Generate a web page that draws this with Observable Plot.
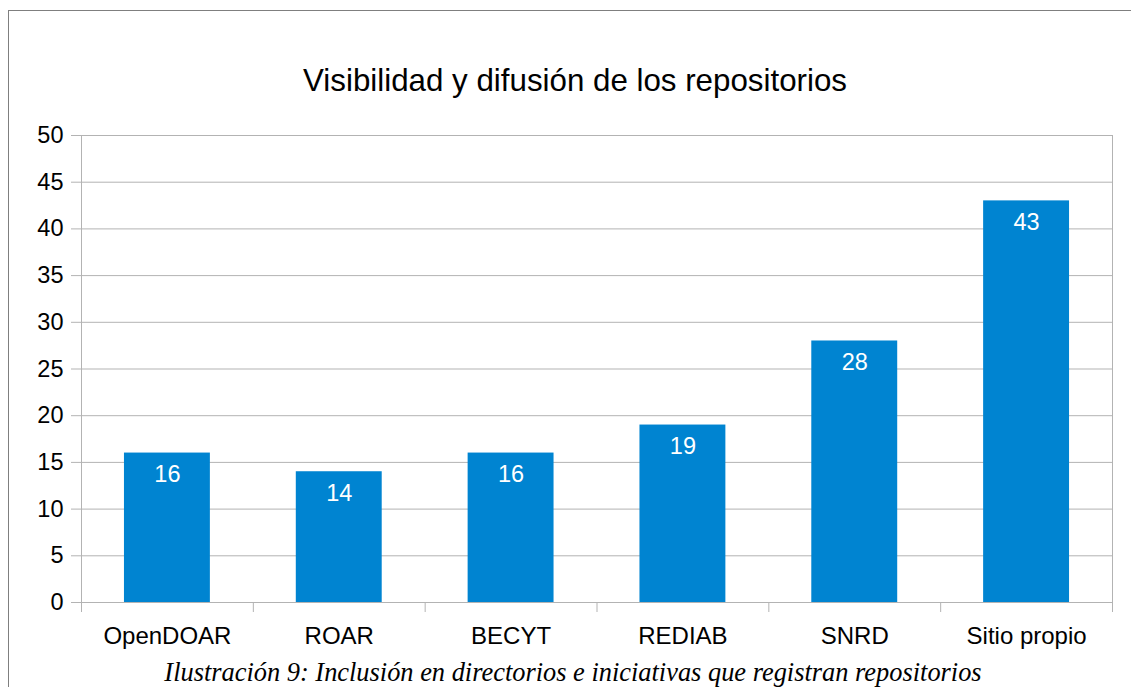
<!DOCTYPE html>
<html>
<head>
<meta charset="utf-8">
<script src="https://cdn.jsdelivr.net/npm/d3@7"></script>
<script src="https://cdn.jsdelivr.net/npm/@observablehq/plot@0.6"></script>
<style>
  html, body { margin: 0; padding: 0; background: #fff; overflow: hidden; }
  #page { position: relative; width: 1131px; height: 687px; overflow: hidden; }
  #frame { position: absolute; left: 8px; top: 10px; width: 1200px; height: 800px; border: 1.5px solid #7f7f7f; box-sizing: border-box; }
  #title { position: absolute; left: 0; top: 64.5px; width: 1150px; text-align: center; font-family: "Liberation Sans", Arial, sans-serif; font-size: 31.3px; line-height: 31.3px; color: #000; }
  #chart { position: absolute; left: 0; top: 115px; }
  #caption { position: absolute; left: 0; top: 659px; width: 1146px; text-align: center; font-family: "Liberation Serif", "Times New Roman", serif; font-style: italic; font-size: 26.4px; line-height: 26.4px; color: #000; white-space: nowrap; }
</style>
</head>
<body>
<div id="page">
  <div id="frame"></div>
  <div id="title">Visibilidad y difusión de los repositorios</div>
  <div id="chart"></div>
  <div id="caption">Ilustración 9: Inclusión en directorios e iniciativas que registran repositorios</div>
</div>
<script>
const categories = ["OpenDOAR", "ROAR", "BECYT", "REDIAB", "SNRD", "Sitio propio"];
const values = [16, 14, 16, 19, 28, 43];
const yTicks = [0, 5, 10, 15, 20, 25, 30, 35, 40, 45, 50];

const data = categories.map((c, i) => ({category: c, index: i, value: values[i]}));
const boundaries = d3.range(categories.length + 1);
const centers = categories.map((c, i) => i + 0.5);

const grey = "#b3b3b3";
const chart = Plot.plot({
  width: 1131,
  height: 545,
  marginLeft: 81,
  marginRight: 19,
  marginTop: 20,
  marginBottom: 58,
  style: {fontFamily: "'Liberation Sans', Arial, sans-serif", background: "transparent"},
  x: {type: "linear", domain: [0, categories.length], axis: null},
  y: {domain: [0, 50], axis: null},
  marks: [
    Plot.gridY(yTicks, {stroke: grey, strokeOpacity: 1, strokeWidth: 1}),
    Plot.frame({stroke: grey, strokeWidth: 1}),
    Plot.axisY({ticks: yTicks, tickSize: 10, tickPadding: 8, stroke: grey, fill: "#000", fontSize: 23.5, label: null, anchor: "left"}),
    Plot.axisX({ticks: boundaries, tickSize: 10, tickFormat: () => "", stroke: grey, label: null, anchor: "bottom"}),
    Plot.axisX({ticks: centers, tickSize: 0, tickPadding: 24.5, tickFormat: (d) => categories[Math.round(d - 0.5)], fill: "#000", fontSize: 24, label: null, anchor: "bottom"}),
    Plot.rectY(data, {x1: (d) => d.index + 0.25, x2: (d) => d.index + 0.75, y1: 0, y2: "value", fill: "#0084d1"}),
    Plot.text(data, {x: (d) => d.index + 0.5, y: "value", text: (d) => String(d.value), dy: 21.5, fill: "#fff", fontSize: 23.5})
  ]
});
document.getElementById("chart").appendChild(chart);
</script>
</body>
</html>
